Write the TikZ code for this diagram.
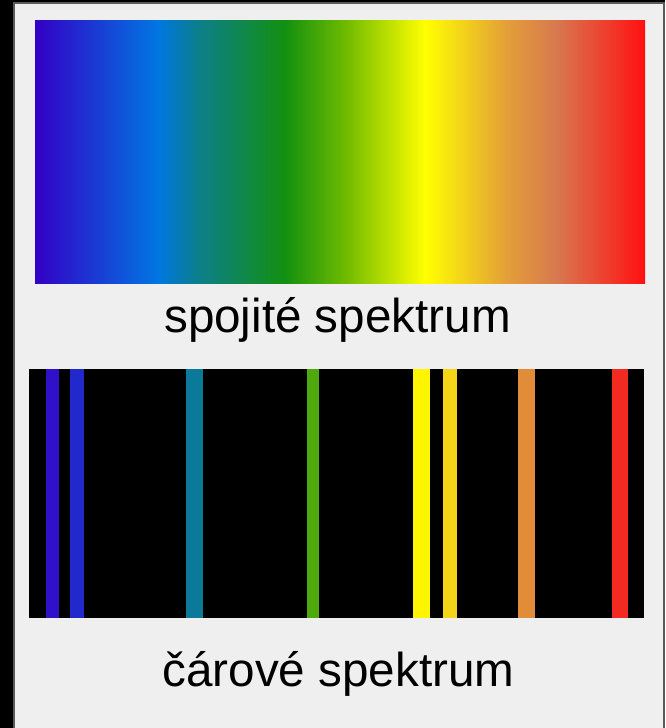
\documentclass[tikz,border=0pt]{standalone}
\usepackage{fontspec}
\setmainfont{Liberation Sans}
\usepackage{xcolor}
\usepackage{tikz}
\usetikzlibrary{positioning}
\definecolor{panelgray}{HTML}{EFEFEF}
\definecolor{framegray}{HTML}{5A5A5A}
\definecolor{specviolet}{HTML}{3300C6}
\definecolor{specblue}{HTML}{0077E2}
\definecolor{specteal}{HTML}{0C7F88}
\definecolor{specgreen}{HTML}{139010}
\definecolor{speclime}{HTML}{70BB00}
\definecolor{specyellow}{HTML}{FFFF00}
\definecolor{specamber}{HTML}{E39E38}
\definecolor{specsalmon}{HTML}{D87850}
\definecolor{specred}{HTML}{FF1010}
\definecolor{lnviolet}{HTML}{3010C8}
\definecolor{lnblue}{HTML}{2229CC}
\definecolor{lnteal}{HTML}{0A7A98}
\definecolor{lngreen}{HTML}{4DA90C}
\definecolor{lnyellow}{HTML}{FFF500}
\definecolor{lngold}{HTML}{F5D518}
\definecolor{lnorange}{HTML}{E08C38}
\definecolor{lnred}{HTML}{F22A22}
\pgfdeclarehorizontalshading{spectrum}{100bp}{color(0bp)=(specviolet); color(25bp)=(specviolet);
  color(35.08bp)=(specblue); color(38.52bp)=(specteal); color(45.49bp)=(specgreen);
  color(50.5bp)=(speclime); color(56.97bp)=(specyellow); color(63.69bp)=(specamber);
  color(67.79bp)=(specsalmon); color(75bp)=(specred); color(100bp)=(specred)}

\begin{document}
\begin{tikzpicture}[x=1pt, y=-1pt,
  speclabel/.style={font=\fontsize{47.6}{57}\selectfont, text=black, anchor=base, inner sep=0pt}]
\useasboundingbox (0,0) rectangle (665,728);
\fill[black] (0,0) rectangle (665,728);
\fill[panelgray, draw=framegray, line width=1.5pt] (14,2.8) rectangle (664,731);
% continuous spectrum
\shade[shading=spectrum] (35,20) rectangle (645,283.5);
\node[speclabel] (contlabel) at (337.5,332) {spojité spektrum};
% line spectrum
\fill[black] (29,369) rectangle (644,618);
\fill[lnviolet] (46,369) rectangle (58.7,618);
\fill[lnblue] (70,369) rectangle (83.7,618);
\fill[lnteal] (186,369) rectangle (202.7,618);
\fill[lngreen] (307.3,369) rectangle (319,618);
\fill[lnyellow] (413.3,369) rectangle (430.3,618);
\fill[lngold] (443.3,369) rectangle (457.3,618);
\fill[lnorange] (518,369) rectangle (534.7,618);
\fill[lnred] (612.3,369) rectangle (627.7,618);
\node[speclabel] (linelabel) at (338.5,686) {čárové spektrum};
\end{tikzpicture}
\end{document}
